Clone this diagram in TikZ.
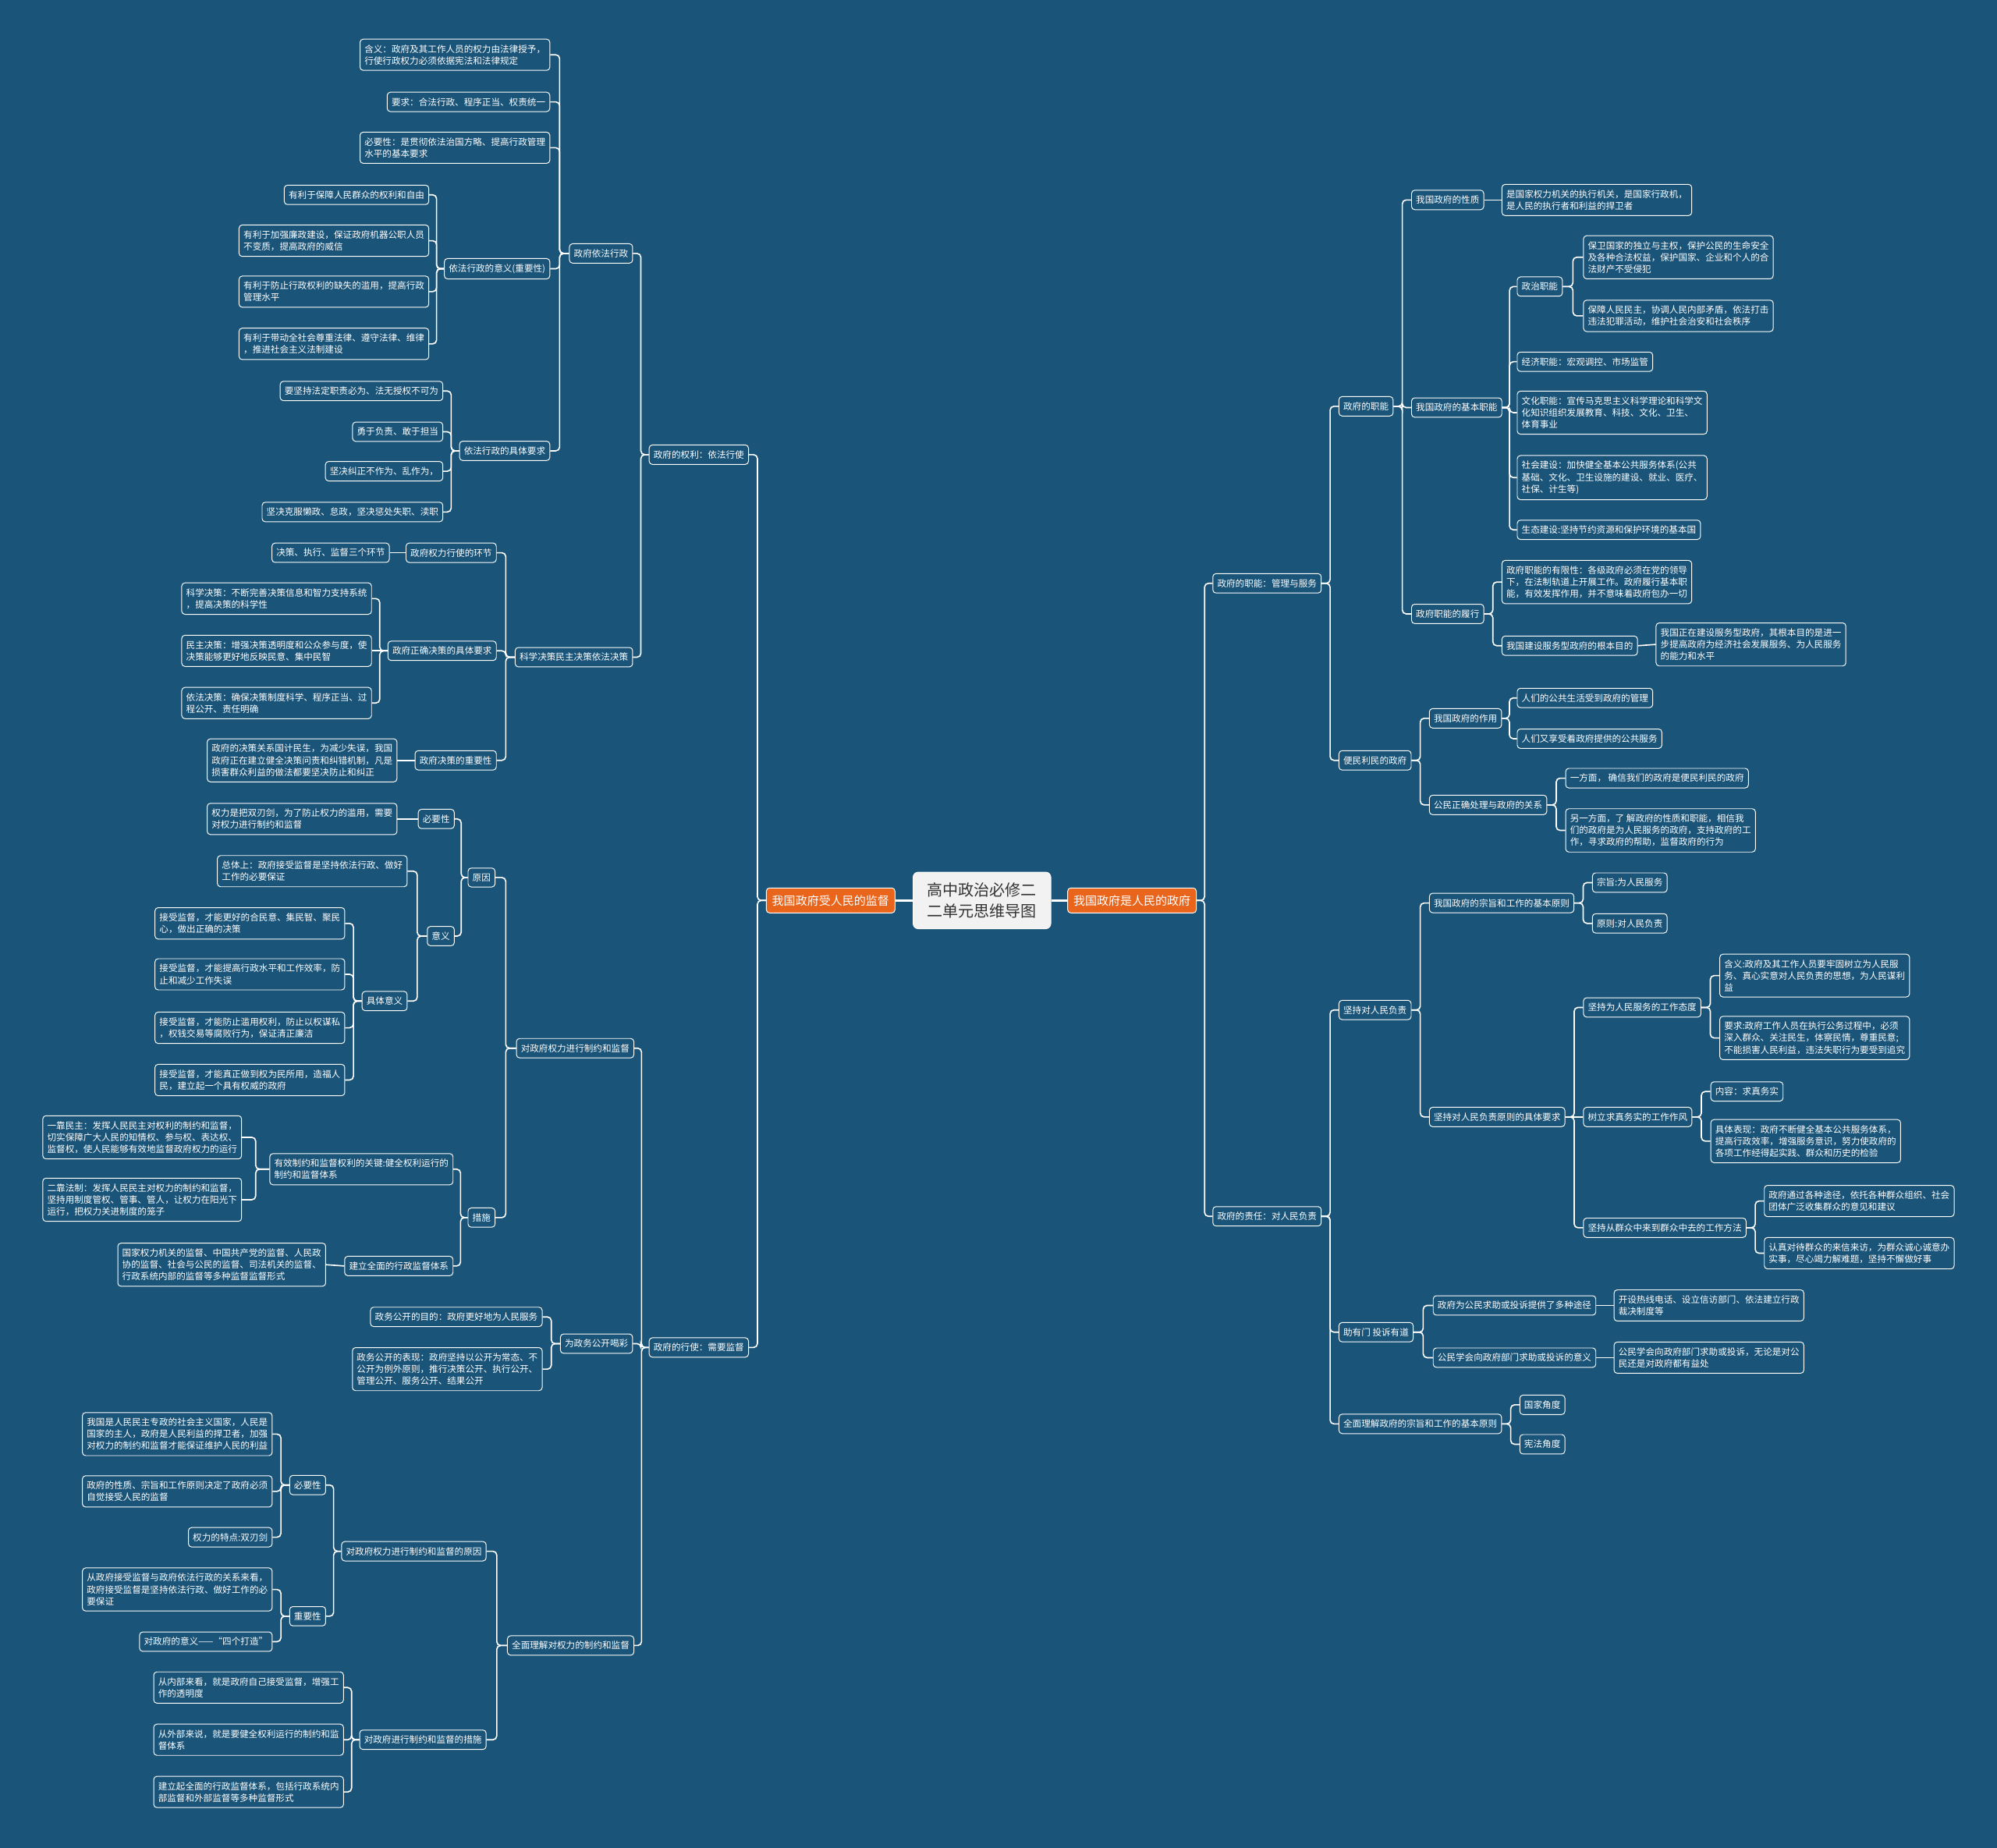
\documentclass[tikz,border=0pt]{standalone}
\usepackage{fontspec}
\setmainfont{Noto Sans CJK SC}
\usetikzlibrary{calc}
\definecolor{bgc}{HTML}{1A5478}
\definecolor{orc}{HTML}{E9651C}
\definecolor{ctc}{HTML}{333333}
\definecolor{cfc}{HTML}{F2F2F2}
\tikzset{
 box/.style={draw=white, line width=0.6pt, rounded corners=2.5pt, fill=bgc, text=white, font=\fontsize{7.1}{9.3}\selectfont, align=left, inner xsep=3.5pt, inner ysep=4.3pt},
 lb/.style={box, anchor=east},
 rb/.style={box, anchor=west},
 mainb/.style={box, fill=orc, font=\fontsize{9.2}{11}\selectfont, inner xsep=4.5pt, inner ysep=5.5pt},
 rootb/.style={draw=white, line width=0.6pt, rounded corners=4pt, fill=cfc, text=ctc, font=\fontsize{12.3}{17}\selectfont, align=center, inner xsep=11pt, inner ysep=8pt},
 conn/.style={draw=white, line width=1pt, rounded corners=3pt},
}
\newcommand\linkL[2]{\foreach \kid in {#2}{\draw[conn] let \p1=(#1.west), \p2=(\kid.east) in (\p1) -- ({(\x1+\x2)/2},\y1) |- (\p2);}}
\newcommand\linkR[2]{\foreach \kid in {#2}{\draw[conn] let \p1=(#1.east), \p2=(\kid.west) in (\p1) -- ({(\x1+\x2)/2},\y1) |- (\p2);}}
\newcommand\lineL[2]{\draw[conn] (#1.west) -- (#2.east);}
\newcommand\lineR[2]{\draw[conn] (#1.east) -- (#2.west);}
\begin{document}
\begin{tikzpicture}[x=1pt,y=-1pt]
\fill[bgc] (0,0) rectangle (1568,1451);
\useasboundingbox (0,0) rectangle (1568,1451);

% root
\node[rootb] (root) at (771,707) {高中政治必修二\\二单元思维导图};
\node[mainb, anchor=east] (L) at (703,707) {我国政府受人民的监督};
\node[mainb, anchor=west] (R) at (838,707) {我国政府是人民的政府};

% ---------------- LEFT ----------------
\node[lb] (a1) at (588,357) {政府的权利：依法行使};
\node[lb] (a2) at (588,1058) {政府的行使：需要监督};

\node[lb] (b1) at (497,199) {政府依法行政};
\node[lb] (b2) at (497,516) {科学决策民主决策依法决策};

\node[lb] (c1) at (432,43) {含义：政府及其工作人员的权力由法律授予，\\行使行政权力必须依据宪法和法律规定};
\node[lb] (c2) at (432,80) {要求：合法行政、程序正当、权责统一};
\node[lb] (c3) at (432,116) {必要性：是贯彻依法治国方略、提高行政管理\\水平的基本要求};
\node[lb] (c4) at (432,211) {依法行政的意义(重要性)};
\node[lb] (c5) at (432,354) {依法行政的具体要求};

\node[lb] (d1) at (337,153) {有利于保障人民群众的权利和自由};
\node[lb] (d2) at (337,189) {有利于加强廉政建设，保证政府机器公职人员\\不变质，提高政府的威信};
\node[lb] (d3) at (337,229) {有利于防止行政权利的缺失的滥用，提高行政\\管理水平};
\node[lb] (d4) at (337,270) {有利于带动全社会尊重法律、遵守法律、维律\\，推进社会主义法制建设};

\node[lb] (d5) at (348,307) {要坚持法定职责必为、法无授权不可为};
\node[lb] (d6) at (348,339) {勇于负责、敢于担当};
\node[lb] (d7) at (348,370) {坚决纠正不作为、乱作为，};
\node[lb] (d8) at (348,402) {坚决克服懒政、怠政，坚决惩处失职、渎职};

\node[lb] (c6) at (390,434) {政府权力行使的环节};
\node[lb] (c7) at (390,511) {政府正确决策的具体要求};
\node[lb] (c8) at (390,597) {政府决策的重要性};
\node[lb] (d9) at (306,434) {决策、执行、监督三个环节};
\node[lb] (d10) at (292,470) {科学决策：不断完善决策信息和智力支持系统\\，提高决策的科学性};
\node[lb] (d11) at (292,511) {民主决策：增强决策透明度和公众参与度，使\\决策能够更好地反映民意、集中民智};
\node[lb] (d12) at (292,552) {依法决策：确保决策制度科学、程序正当、过\\程公开、责任明确};
\node[lb] (d13) at (312,597) {政府的决策关系国计民生，为减少失误，我国\\政府正在建立健全决策问责和纠错机制，凡是\\损害群众利益的做法都要坚决防止和纠正};

\node[lb] (b3) at (498,823) {对政府权力进行制约和监督};
\node[lb] (b4) at (497,1055) {为政务公开喝彩};
\node[lb] (b5) at (498,1292) {全面理解对权力的制约和监督};

\node[lb] (c9) at (389,689) {原因};
\node[lb] (c10) at (389,956) {措施};
\node[lb] (d14) at (357,643) {必要性};
\node[lb] (d15) at (357,735) {意义};
\node[lb] (e1) at (312,643) {权力是把双刃剑，为了防止权力的滥用，需要\\对权力进行制约和监督};
\node[lb] (e2) at (320,684) {总体上：政府接受监督是坚持依法行政、做好\\工作的必要保证};
\node[lb] (e3) at (320,786) {具体意义};
\node[lb] (f1) at (271,725) {接受监督，才能更好的合民意、集民智、聚民\\心，做出正确的决策};
\node[lb] (f2) at (271,765) {接受监督，才能提高行政水平和工作效率，防\\止和减少工作失误};
\node[lb] (f3) at (271,807) {接受监督，才能防止滥用权利，防止以权谋私\\，权钱交易等腐败行为，保证清正廉洁};
\node[lb] (f4) at (271,848) {接受监督，才能真正做到权为民所用，造福人\\民，建立起一个具有权威的政府};

\node[lb] (d16) at (356,918) {有效制约和监督权利的关键:健全权利运行的\\制约和监督体系};
\node[lb] (d17) at (356,994) {建立全面的行政监督体系};
\node[lb] (e4) at (190,893) {一靠民主：发挥人民民主对权利的制约和监督，\\切实保障广大人民的知情权、参与权、表达权、\\监督权，使人民能够有效地监督政府权力的运行};
\node[lb] (e5) at (190,942) {二靠法制：发挥人民民主对权力的制约和监督，\\坚持用制度管权、管事、管人，让权力在阳光下\\运行，把权力关进制度的笼子};
\node[lb] (e6) at (256,993) {国家权力机关的监督、中国共产党的监督、人民政\\协的监督、社会与公民的监督、司法机关的监督、\\行政系统内部的监督等多种监督监督形式};

\node[lb] (d18) at (426,1034) {政务公开的目的：政府更好地为人民服务};
\node[lb] (d19) at (426,1075) {政务公开的表现：政府坚持以公开为常态、不\\公开为例外原则，推行决策公开、执行公开、\\管理公开、服务公开、结果公开};

\node[lb] (c11) at (382,1218) {对政府权力进行制约和监督的原因};
\node[lb] (c12) at (382,1366) {对政府进行制约和监督的措施};
\node[lb] (d20) at (256,1166) {必要性};
\node[lb] (d21) at (256,1269) {重要性};
\node[lb] (e7) at (214,1126) {我国是人民民主专政的社会主义国家，人民是\\国家的主人，政府是人民利益的捍卫者，加强\\对权力的制约和监督才能保证维护人民的利益};
\node[lb] (e8) at (214,1171) {政府的性质、宗旨和工作原则决定了政府必须\\自觉接受人民的监督};
\node[lb] (e9) at (214,1207) {权力的特点:双刃剑};
\node[lb] (e10) at (214,1248) {从政府接受监督与政府依法行政的关系来看，\\政府接受监督是坚持依法行政、做好工作的必\\要保证};
\node[lb] (e11) at (214,1289) {对政府的意义——“四个打造”};
\node[lb] (d22) at (270,1325) {从内部来看，就是政府自己接受监督，增强工\\作的透明度};
\node[lb] (d23) at (270,1366) {从外部来说，就是要健全权利运行的制约和监\\督体系};
\node[lb] (d24) at (270,1407) {建立起全面的行政监督体系，包括行政系统内\\部监督和外部监督等多种监督形式};

% ---------------- RIGHT ----------------
\node[rb] (p1) at (952,458) {政府的职能：管理与服务};
\node[rb] (p2) at (952,955) {政府的责任：对人民负责};

\node[rb] (q1) at (1051,319) {政府的职能};
\node[rb] (q2) at (1051,597) {便民利民的政府};
\node[rb] (r1) at (1108,157) {我国政府的性质};
\node[rb] (r2) at (1108,320) {我国政府的基本职能};
\node[rb] (r3) at (1108,482) {政府职能的履行};
\node[rb] (s1) at (1179,157) {是国家权力机关的执行机关，是国家行政机，\\是人民的执行者和利益的捍卫者};
\node[rb] (s2) at (1191,225) {政治职能};
\node[rb] (s3) at (1191,284) {经济职能：宏观调控、市场监管};
\node[rb] (s4) at (1191,324) {文化职能：宣传马克思主义科学理论和科学文\\化知识组织发展教育、科技、文化、卫生、\\体育事业};
\node[rb] (s5) at (1191,375) {社会建设：加快健全基本公共服务体系(公共\\基础、文化、卫生设施的建设、就业、医疗、\\社保、计生等)};
\node[rb] (s6) at (1191,416) {生态建设:坚持节约资源和保护环境的基本国};
\node[rb] (t1) at (1243,202) {保卫国家的独立与主权，保护公民的生命安全\\及各种合法权益，保护国家、企业和个人的合\\法财产不受侵犯};
\node[rb] (t2) at (1243,248) {保障人民民主，协调人民内部矛盾，依法打击\\违法犯罪活动，维护社会治安和社会秩序};
\node[rb] (s7) at (1179,457) {政府职能的有限性：各级政府必须在党的领导\\下，在法制轨道上开展工作。政府履行基本职\\能，有效发挥作用，并不意味着政府包办一切};
\node[rb] (s8) at (1179,507) {我国建设服务型政府的根本目的};
\node[rb] (t3) at (1300,506) {我国正在建设服务型政府，其根本目的是进一\\步提高政府为经济社会发展服务、为人民服务\\的能力和水平};

\node[rb] (r4) at (1122,564) {我国政府的作用};
\node[rb] (r5) at (1122,632) {公民正确处理与政府的关系};
\node[rb] (s9) at (1191,548) {人们的公共生活受到政府的管理};
\node[rb] (s10) at (1191,580) {人们又享受着政府提供的公共服务};
\node[rb] (s11) at (1229,611) {一方面， 确信我们的政府是便民利民的政府};
\node[rb] (s12) at (1229,652) {另一方面，了 解政府的性质和职能，相信我\\们的政府是为人民服务的政府，支持政府的工\\作，寻求政府的帮助，监督政府的行为};

\node[rb] (q3) at (1051,793) {坚持对人民负责};
\node[rb] (q4) at (1051,1046) {助有门 投诉有道};
\node[rb] (q5) at (1051,1118) {全面理解政府的宗旨和工作的基本原则};
\node[rb] (r6) at (1122,709) {我国政府的宗旨和工作的基本原则};
\node[rb] (r7) at (1122,877) {坚持对人民负责原则的具体要求};
\node[rb] (s13) at (1250,693) {宗旨:为人民服务};
\node[rb] (s14) at (1250,725) {原则:对人民负责};
\node[rb] (s15) at (1243,791) {坚持为人民服务的工作态度};
\node[rb] (s16) at (1243,877) {树立求真务实的工作作风};
\node[rb] (s17) at (1243,964) {坚持从群众中来到群众中去的工作方法};
\node[rb] (t4) at (1350,766) {含义:政府及其工作人员要牢固树立为人民服\\务、真心实意对人民负责的思想，为人民谋利\\益};
\node[rb] (t5) at (1350,815) {要求:政府工作人员在执行公务过程中，必须\\深入群众、关注民生，体察民情，尊重民意;\\不能损害人民利益，违法失职行为要受到追究};
\node[rb] (t6) at (1343,857) {内容：求真务实};
\node[rb] (t7) at (1343,896) {具体表现：政府不断健全基本公共服务体系，\\提高行政效率，增强服务意识，努力使政府的\\各项工作经得起实践、群众和历史的检验};
\node[rb] (t8) at (1385,943) {政府通过各种途径，依托各种群众组织、社会\\团体广泛收集群众的意见和建议};
\node[rb] (t9) at (1385,984) {认真对待群众的来信来访，为群众诚心诚意办\\实事，尽心竭力解难题，坚持不懈做好事};
\node[rb] (r8) at (1125,1025) {政府为公民求助或投诉提供了多种途径};
\node[rb] (r9) at (1125,1066) {公民学会向政府部门求助或投诉的意义};
\node[rb] (s18) at (1267,1025) {开设热线电话、设立信访部门、依法建立行政\\裁决制度等};
\node[rb] (s19) at (1267,1066) {公民学会向政府部门求助或投诉，无论是对公\\民还是对政府都有益处};
\node[rb] (r10) at (1193,1103) {国家角度};
\node[rb] (r11) at (1193,1134) {宪法角度};

% ---------------- CONNECTORS ----------------
\draw[conn, line width=2pt] (root.west) -- (L.east);
\draw[conn, line width=2pt] (root.east) -- (R.west);

\linkL{L}{a1,a2}
\linkL{a1}{b1,b2}
\linkL{b1}{c1,c2,c3,c4,c5}
\linkL{c4}{d1,d2,d3,d4}
\linkL{c5}{d5,d6,d7,d8}
\linkL{b2}{c6,c7,c8}
\lineL{c6}{d9}
\linkL{c7}{d10,d12}
\lineL{c7}{d11}
\lineL{c8}{d13}
\linkL{a2}{b3,b4,b5}
\linkL{b3}{c9,c10}
\linkL{c9}{d14,d15}
\lineL{d14}{e1}
\linkL{d15}{e2,e3}
\linkL{e3}{f1,f2,f3,f4}
\linkL{c10}{d16,d17}
\linkL{d16}{e4,e5}
\lineL{d17}{e6}
\linkL{b4}{d18,d19}
\linkL{b5}{c11,c12}
\linkL{c11}{d20,d21}
\linkL{d20}{e7,e8,e9}
\linkL{d21}{e10,e11}
\linkL{c12}{d22,d23,d24}

\linkR{R}{p1,p2}
\linkR{p1}{q1,q2}
\linkR{q1}{r1,r2,r3}
\lineR{r1}{s1}
\linkR{r2}{s2,s3,s4,s5,s6}
\linkR{s2}{t1,t2}
\linkR{r3}{s7,s8}
\lineR{s8}{t3}
\linkR{q2}{r4,r5}
\linkR{r4}{s9,s10}
\linkR{r5}{s11,s12}
\linkR{p2}{q3,q4,q5}
\linkR{q3}{r6,r7}
\linkR{r6}{s13,s14}
\linkR{r7}{s15,s17}
\lineR{r7}{s16}
\linkR{s15}{t4,t5}
\linkR{s16}{t6,t7}
\linkR{s17}{t8,t9}
\linkR{q4}{r8,r9}
\lineR{r8}{s18}
\lineR{r9}{s19}
\linkR{q5}{r10,r11}
\end{tikzpicture}
\end{document}
